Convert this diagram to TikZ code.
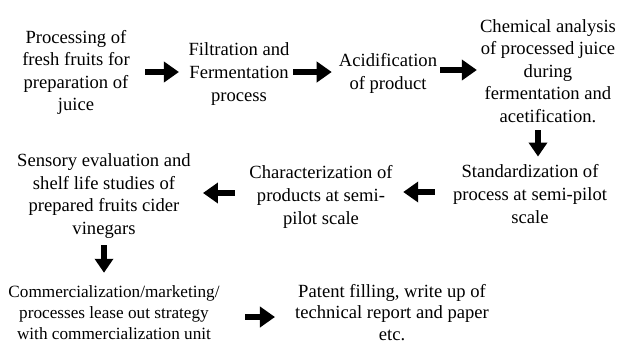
\documentclass[tikz,border=0pt]{standalone}
\usepackage{fontspec}
\setmainfont{Liberation Serif}
\usetikzlibrary{arrows.meta,calc}
\begin{document}
\begin{tikzpicture}[x=1bp,y=-1bp,
  stage/.style={align=center,inner sep=0pt,font=\fontsize{18.6bp}{22.6bp}\selectfont},
  stagesmall/.style={align=center,inner sep=0pt,font=\fontsize{17.2bp}{21bp}\selectfont},
  stagetight/.style={align=center,inner sep=0pt,font=\fontsize{18.6bp}{21.3bp}\selectfont},
  flow/.style={line width=6.5bp,-{Triangle[length=15bp,width=20bp]}},
  flowdown/.style={line width=5.5bp,-{Triangle[length=14bp,width=18bp]}}]
\useasboundingbox (0,0) rectangle (617,345);

% process stages
\node[stage] (n1) at (76,72.5) {Processing of\\fresh fruits for\\preparation of\\juice};
\node[stage] (n2) at (239,74) {Filtration and\\Fermentation\\process};
\node[stage] (n3) at (388,73.5) {Acidification\\of product};
\node[stage] (n4) at (548,71) {Chemical analysis\\of processed juice\\during\\fermentation and\\acetification.};
\node[stage] (n5) at (530,194) {Standardization of\\process at semi-pilot\\scale};
\node[stage] (n6) at (321,197) {Characterization of\\products at semi-\\pilot scale};
\node[stage] (n7) at (104,196) {Sensory evaluation and\\shelf life studies of\\prepared fruits cider\\vinegars};
\node[stagesmall] (n8) at (114,312.5) {Commercialization/marketing/\\processes lease out strategy\\with commercialization unit};
\node[stagetight] (n9) at (392,312.5) {Patent filling, write up of\\technical report and paper\\etc.};

% block arrows between stages
\draw[flow] ($(n1.east)+(15.5,-0.5)$) -- ($(n2.west)+(-9.5,-2)$);
\draw[flow] ($(n2.east)+(3.5,-2)$) -- ($(n3.west)+(-7,-1.5)$);
\draw[flow] ($(n3.east)+(3,-3.5)$) -- ($(n4.west)+(-3,-1)$);
\draw[flowdown] ($(n4.south)+(-10,7.5)$) -- ($(n5.north)+(8,-8)$);
\draw[flow] ($(n5.west)+(-18,-2)$) -- ($(n6.east)+(10.5,-5)$);
\draw[flow] ($(n6.west)+(-14.5,-4)$) -- ($(n7.east)+(12,-3)$);
\draw[flowdown] ($(n7.south)+(0,6.6)$) -- ($(n8.north)+(-10,-12.5)$);
\draw[flow] ($(n8.east)+(25.5,4.5)$) -- ($(n9.west)+(-20,4.5)$);
\end{tikzpicture}
\end{document}
